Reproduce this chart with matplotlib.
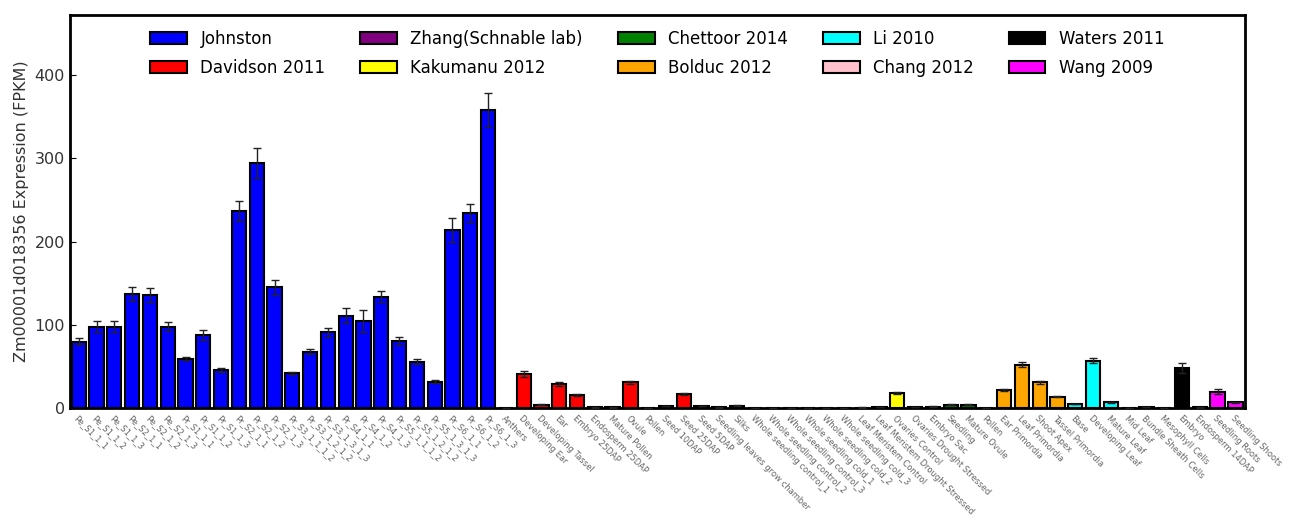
import matplotlib
matplotlib.use("Agg")
import matplotlib.pyplot as plt
import numpy as np

gene = "Zm00001d018356"

# study name -> bar colour, in legend order
studies = ["Johnston", "Davidson 2011", "Zhang(Schnable lab)", "Kakumanu 2012",
           "Chettoor 2014", "Bolduc 2012", "Li 2010", "Chang 2012",
           "Waters 2011", "Wang 2009"]
colors = ["#0000ff", "#ff0000", "#800080", "#ffff00", "#008000",
          "#ffa500", "#00ffff", "#ffc0cb", "#000000", "#ff00ff"]

# samples, FPKM and error per study
johnston_labels = ["Pe_S1_1_1", "Pe_S1_1_2", "Pe_S1_1_3", "Pe_S2_1_1", "Pe_S2_1_2",
                   "Pe_S2_1_3", "Pr_S1_1_1", "Pr_S1_1_2", "Pr_S1_1_3", "Pr_S2_1_1",
                   "Pr_S2_1_2", "Pr_S2_1_3", "Pr_S3_1_1_1_2", "Pr_S3_1_2_1_2",
                   "Pr_S3_1_3_1_3", "Pr_S4_1_1", "Pr_S4_1_2", "Pr_S4_1_3",
                   "Pr_S5_1_1_1_2", "Pr_S5_1_2_1_2", "Pr_S5_1_3_1_3", "Pr_S6_1_1",
                   "Pr_S6_1_2", "Pr_S6_1_3"]
johnston_vals = [80, 98, 98, 137, 136, 98, 59, 88, 46, 237, 294, 145,
                 42, 68, 91, 111, 105, 134, 81, 56, 32, 214, 234, 358]
johnston_err = [4, 7, 7, 8, 8, 5, 2, 6, 2, 12, 18, 9,
                2, 3, 5, 9, 13, 7, 5, 3, 2, 14, 11, 20]

davidson_labels = ["Anthers", "Developing Ear", "Developing Tassel", "Ear",
                   "Embryo 25DAP", "Endosperm 25DAP", "Mature Pollen", "Ovule",
                   "Pollen", "Seed 10DAP", "Seed 25DAP", "Seed 5DAP",
                   "Seedling leaves grow chamber", "Silks"]
davidson_vals = [0.5, 41, 4, 29, 16, 1, 1, 31, 0, 2.5, 17, 2.5, 1, 3]
davidson_err = [0.1, 4, 0.5, 2, 1, 0.2, 0.2, 2, 0, 0.3, 1, 0.3, 0.2, 0.5]

zhang_labels = ["Whole seedling control_1", "Whole seedling control_2",
                "Whole seedling control_3", "Whole seedling cold_1",
                "Whole seedling cold_2", "Whole seedling cold_3"]
zhang_vals = [0, 0, 0, 0, 0, 0]
zhang_err = [0, 0, 0, 0, 0, 0]

kakumanu_labels = ["Leaf Meristem Control", "Leaf Meristem Drought Stressed",
                   "Ovaries Control", "Ovaries Drought Stressed"]
kakumanu_vals = [0.8, 1, 18, 1.5]
kakumanu_err = [0.1, 0.1, 1, 0.2]

chettoor_labels = ["Embryo Sac", "Seedling", "Mature Ovule", "Pollen"]
chettoor_vals = [2, 4, 4, 0]
chettoor_err = [0.3, 0.5, 0.5, 0]

bolduc_labels = ["Ear Primordia", "Leaf Primordia", "Shoot Apex", "Tassel Primordia"]
bolduc_vals = [22, 52, 31, 14]
bolduc_err = [1.5, 3, 2, 1]

li_labels = ["Base", "Developing Leaf", "Mature Leaf", "Mid Leaf"]
li_vals = [5, 57, 7, 0.5]
li_err = [0.5, 3, 0.5, 0.1]

chang_labels = ["Bundle Sheath Cells", "Mesophyll Cells"]
chang_vals = [1.5, 0]
chang_err = [0.2, 0]

waters_labels = ["Embryo", "Endosperm 14DAP"]
waters_vals = [48, 1]
waters_err = [6, 0.2]

wang_labels = ["Seedling Roots", "Seedling Shoots"]
wang_vals = [20, 7]
wang_err = [3, 1]

groups = [
    (johnston_labels, johnston_vals, johnston_err),
    (davidson_labels, davidson_vals, davidson_err),
    (zhang_labels, zhang_vals, zhang_err),
    (kakumanu_labels, kakumanu_vals, kakumanu_err),
    (chettoor_labels, chettoor_vals, chettoor_err),
    (bolduc_labels, bolduc_vals, bolduc_err),
    (li_labels, li_vals, li_err),
    (chang_labels, chang_vals, chang_err),
    (waters_labels, waters_vals, waters_err),
    (wang_labels, wang_vals, wang_err),
]

fig = plt.figure(figsize=(12.94, 5.2), dpi=100)
ax = fig.add_axes([0.054, 0.215, 0.908, 0.756])

width = 0.8
all_labels = []
start = 0
for (labels, vals, errs), name, col in zip(groups, studies, colors):
    x = np.arange(start, start + len(vals))
    ax.bar(x, vals, width, align="edge", color=col, edgecolor="black",
           linewidth=1.5, label=name, zorder=2)
    ax.errorbar(x + width / 2, vals, yerr=errs, fmt="none", ecolor="#222222",
                elinewidth=1, capsize=3, zorder=3)
    all_labels += labels
    start += len(vals)

ax.set_xlim(-0.1, start - 0.07)
ax.set_ylim(0, 472)
ax.set_yticks([0, 100, 200, 300, 400])
ax.set_ylabel(gene + " Expression (FPKM)", fontsize=11.5, color="#333333")

ax.set_xticks(np.arange(start) + width / 2)
ax.set_xticklabels(all_labels, rotation=-45, ha="left", va="top",
                   rotation_mode="anchor", fontsize=6, color="#666666")
ax.tick_params(axis="x", length=0, pad=4)
ax.tick_params(axis="y", direction="in", length=4, labelsize=11.5,
               labelcolor="#333333")
for s in ax.spines.values():
    s.set_linewidth(2)

ax.legend(loc="upper center", ncol=5, frameon=False, fontsize=12,
          labelspacing=0.65, handlelength=2.2, columnspacing=2.1)

fig.savefig("out.png", dpi=100)
